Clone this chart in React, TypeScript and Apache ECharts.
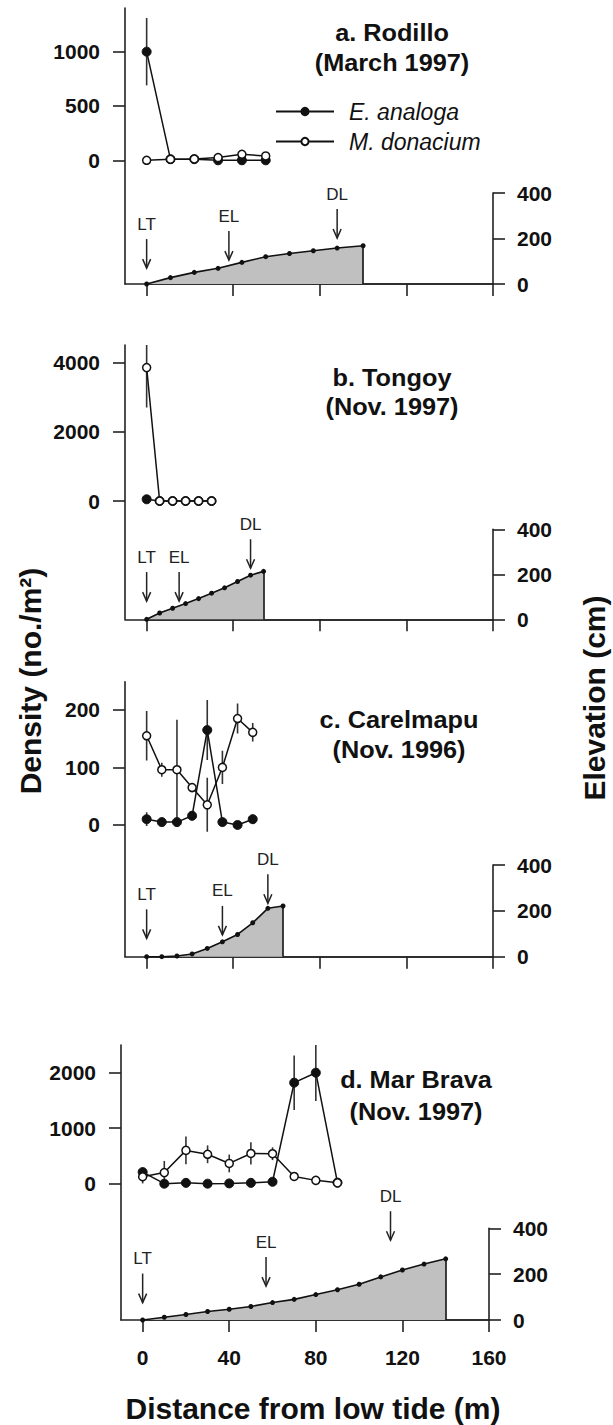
import React, { useEffect, useRef } from "react";
import * as echarts from "echarts";

const FONT = '"Liberation Sans", Arial, Helvetica, sans-serif';
const INK = "#111";
const AXIS = "#222";

// ---------- shared ticks ----------
const xTicks = [0, 40, 80, 120, 160];
const elevTicks = [0, 200, 400];
const arrowLabels = ["LT", "EL", "DL"];
const speciesNames = ["E. analoga", "M. donacium"];

// ---------- a. Rodillo (March 1997) ----------
const aDensityX = [0, 11, 22, 33, 44, 55];
const aAnaloga = [1000, 10, 10, 0, 0, 0];
const aAnalogaErr = [310, 0, 0, 0, 0, 0];
const aDonacium = [0, 9, 12, 25, 55, 40];
const aDonaciumErr = [0, 0, 0, 0, 0, 0];
const aElevX = [0, 11, 22, 33, 44, 55, 66, 77, 88, 100];
const aElev = [0, 28, 51, 69, 95, 120, 134, 146, 158, 168];
const aArrowX = [0, 38, 88];
const aArrowTip = [70, 105, 202];
const aDensityTicks = [0, 500, 1000];

// ---------- b. Tongoy (Nov. 1997) ----------
const bDensityX = [0, 6, 12, 18, 24, 30];
const bAnaloga = [50, 0, 0, 0, 0, 0];
const bAnalogaErr = [0, 0, 0, 0, 0, 0];
const bDonacium = [3850, 0, 0, 0, 0, 0];
const bDonaciumErr = [1150, 0, 0, 0, 0, 0];
const bElevX = [0, 6, 12, 18, 24, 30, 36, 42, 48, 54];
const bElev = [0, 28, 49, 70, 92, 116, 140, 168, 196, 213];
const bArrowX = [0, 15, 48];
const bArrowTip = [81, 81, 227];
const bDensityTicks = [0, 2000, 4000];

// ---------- c. Carelmapu (Nov. 1996) ----------
const cDensityX = [0, 7, 14, 21, 28, 35, 42, 49];
const cAnaloga = [10, 5, 5, 16, 165, 5, 0, 10];
const cAnalogaErr = [12, 6, 0, 8, 52, 5, 3, 8];
const cDonacium = [155, 96, 96, 65, 35, 100, 185, 161];
const cDonaciumErr = [43, 12, 87, 8, 47, 29, 26, 16];
const cElevX = [0, 7, 14, 21, 28, 35, 42, 49, 56, 63];
const cElev = [0, 0, 3, 12, 36, 65, 97, 148, 211, 221];
const cArrowX = [0, 35, 56];
const cArrowTip = [80, 95, 233];
const cDensityTicks = [0, 100, 200];

// ---------- d. Mar Brava (Nov. 1997) ----------
const dDensityX = [0, 10, 20, 30, 40, 50, 60, 70, 80, 90];
const dAnaloga = [210, 0, 15, 0, 5, 15, 35, 1820, 2000, 20];
const dAnalogaErr = [60, 0, 0, 0, 0, 0, 0, 490, 510, 0];
const dDonacium = [125, 200, 600, 530, 365, 545, 540, 130, 60, 15];
const dDonaciumErr = [120, 210, 250, 160, 160, 200, 115, 0, 0, 0];
const dElevX = [0, 10, 20, 30, 40, 50, 60, 70, 80, 90, 100, 110, 120, 130, 140];
const dElev = [0, 12, 24, 37, 47, 59, 76, 90, 111, 132, 156, 188, 218, 244, 267];
const dArrowX = [0, 57, 114.5];
const dArrowTip = [76, 148, 348];
const dDensityTicks = [0, 1000, 2000];

// ---------- layout (pixels / axis ranges) ----------
const panels = [
  {
    title: ["a. Rodillo", "(March 1997)"], titleX: 392, titleY: [33, 63],
    left: 125, top: 8, base: 284, elevTop: 193, dMin: -1139, dMax: 1402,
    dx: aDensityX, an: aAnaloga, anE: aAnalogaErr, dn: aDonacium, dnE: aDonaciumErr,
    ex: aElevX, ev: aElev, ax: aArrowX, at: aArrowTip, dTicks: aDensityTicks, xLabels: false,
  },
  {
    title: ["b. Tongoy", "(Nov. 1997)"], titleX: 392, titleY: [378, 407],
    left: 125, top: 345, base: 619.3, elevTop: 529.3, dMin: -3414, dMax: 4502,
    dx: bDensityX, an: bAnaloga, anE: bAnalogaErr, dn: bDonacium, dnE: bDonaciumErr,
    ex: bElevX, ev: bElev, ax: bArrowX, at: bArrowTip, dTicks: bDensityTicks, xLabels: false,
  },
  {
    title: ["c. Carelmapu", "(Nov. 1996)"], titleX: 399, titleY: [720, 750],
    left: 125, top: 681.7, base: 956.7, elevTop: 865, dMin: -229, dMax: 249,
    dx: cDensityX, an: cAnaloga, anE: cAnalogaErr, dn: cDonacium, dnE: cDonaciumErr,
    ex: cElevX, ev: cElev, ax: cArrowX, at: cArrowTip, dTicks: cDensityTicks, xLabels: false,
  },
  {
    title: ["d. Mar Brava", "(Nov. 1997)"], titleX: 416, titleY: [1080, 1112],
    left: 121, top: 1045, base: 1320, elevTop: 1228.3, dMin: -2456, dMax: 2499,
    dx: dDensityX, an: dAnaloga, anE: dAnalogaErr, dn: dDonacium, dnE: dDonaciumErr,
    ex: dElevX, ev: dElev, ax: dArrowX, at: dArrowTip, dTicks: dDensityTicks, xLabels: true,
  },
];

const X_MIN = -10;
const X_MAX = 160;
const GRID_W = 368;
const PX_PER_M = GRID_W / (X_MAX - X_MIN);

const plain = (v: number) => String(v);

function errRender(params: any, api: any) {
  const x = api.value(0);
  const y = api.value(1);
  const e = api.value(2);
  if (!e) return null;
  const p1 = api.coord([x, y + e]);
  const p2 = api.coord([x, y - e]);
  return {
    type: "line",
    shape: { x1: p1[0], y1: p1[1], x2: p2[0], y2: p2[1] },
    style: { stroke: "#333", lineWidth: 1.6 },
  };
}

function arrowRender(params: any, api: any) {
  const p = api.coord([api.value(0), api.value(1)]);
  const px = p[0];
  const py = p[1];
  const top = py - 29;
  return {
    type: "group",
    children: [
      { type: "line", shape: { x1: px, y1: top, x2: px, y2: py }, style: { stroke: "#222", lineWidth: 1.5 } },
      {
        type: "polyline",
        shape: { points: [[px - 4, py - 9], [px, py], [px + 4, py - 9]] },
        style: { stroke: "#222", lineWidth: 1.5, fill: null },
      },
      {
        type: "text",
        x: px,
        y: top - 15,
        style: {
          text: arrowLabels[params.dataIndex],
          fontSize: 17,
          fontFamily: FONT,
          fill: "#222",
          align: "center",
          verticalAlign: "middle",
        },
      },
    ],
  };
}

function buildOption() {
  const grid: any[] = [];
  const xAxis: any[] = [];
  const yAxis: any[] = [];
  const series: any[] = [];
  const graphic: any[] = [];

  const lineAxis = { show: true, onZero: false, lineStyle: { color: AXIS, width: 1.6 } };
  const tickStyle = { show: true, length: 12, lineStyle: { color: AXIS, width: 1.6 } };
  const labelStyle = { fontFamily: FONT, fontWeight: "bold", fontSize: 21, color: INK, formatter: plain };

  panels.forEach((p, i) => {
    const dg = i * 2;
    const eg = i * 2 + 1;
    const zeroX = p.left + (0 - X_MIN) * PX_PER_M;
    grid.push({ left: p.left, top: p.top, width: GRID_W, height: p.base - p.top });
    grid.push({ left: zeroX, top: p.elevTop, width: GRID_W - (zeroX - p.left), height: p.base - p.elevTop });

    // density grid axes
    xAxis.push({
      gridIndex: dg, type: "value", min: X_MIN, max: X_MAX,
      axisLine: lineAxis, axisTick: { show: false }, axisLabel: { show: false }, splitLine: { show: false },
    });
    yAxis.push({
      gridIndex: dg, type: "value", position: "left", min: p.dMin, max: p.dMax,
      axisLine: lineAxis,
      axisTick: { ...tickStyle, customValues: p.dTicks },
      axisLabel: { ...labelStyle, margin: 25, customValues: p.dTicks },
      splitLine: { show: false },
    });
    // elevation grid axes
    xAxis.push({
      gridIndex: eg, type: "value", min: 0, max: 160, interval: 40,
      axisLine: lineAxis, axisTick: { ...tickStyle, customValues: xTicks },
      axisLabel: { ...labelStyle, show: p.xLabels, margin: 27, customValues: xTicks },
      splitLine: { show: false },
    });
    yAxis.push({
      gridIndex: eg, type: "value", position: "right", min: 0, max: 400, interval: 200,
      axisLine: lineAxis, axisTick: { ...tickStyle, customValues: elevTicks },
      axisLabel: { ...labelStyle, margin: 24, customValues: elevTicks },
      splitLine: { show: false },
    });

    // error bars
    series.push({
      type: "custom", name: "err-a" + i, xAxisIndex: dg, yAxisIndex: dg, clip: true, z: 2,
      renderItem: errRender, data: p.dx.map((x, k) => [x, p.an[k], p.anE[k]]),
    });
    series.push({
      type: "custom", name: "err-d" + i, xAxisIndex: dg, yAxisIndex: dg, clip: true, z: 2,
      renderItem: errRender, data: p.dx.map((x, k) => [x, p.dn[k], p.dnE[k]]),
    });
    // density lines
    series.push({
      type: "line", name: speciesNames[0], xAxisIndex: dg, yAxisIndex: dg, z: 3,
      symbol: "circle", symbolSize: 9, showSymbol: true,
      lineStyle: { color: INK, width: 1.5 },
      itemStyle: { color: INK, borderColor: INK, borderWidth: 1 },
      data: p.dx.map((x, k) => [x, p.an[k]]),
    });
    series.push({
      type: "line", name: speciesNames[1], xAxisIndex: dg, yAxisIndex: dg, z: 4,
      symbol: "circle", symbolSize: 8, showSymbol: true,
      lineStyle: { color: INK, width: 1.5 },
      itemStyle: { color: "#fff", borderColor: INK, borderWidth: 1.5 },
      data: p.dx.map((x, k) => [x, p.dn[k]]),
    });
    // elevation profile
    const lastX = p.ex[p.ex.length - 1];
    const lastY = p.ev[p.ev.length - 1];
    series.push({
      type: "line", name: "elev" + i, xAxisIndex: eg, yAxisIndex: eg, z: 3,
      symbol: "circle", symbolSize: 5,
      lineStyle: { color: INK, width: 1.6 },
      itemStyle: { color: INK },
      areaStyle: { color: "#c0c0c0", opacity: 1 },
      data: p.ex.map((x, k) => [x, p.ev[k]]),
      markLine: {
        silent: true, symbol: ["none", "none"], label: { show: false },
        lineStyle: { color: INK, width: 1.6, type: "solid" },
        data: [[{ coord: [lastX, lastY] }, { coord: [lastX, 0] }]],
      },
    });
    // LT / EL / DL arrows
    series.push({
      type: "custom", name: "arrows" + i, xAxisIndex: eg, yAxisIndex: eg, z: 5, clip: false,
      renderItem: arrowRender, data: p.ax.map((x, k) => [x, p.at[k]]),
    });

    // panel titles
    p.title.forEach((t, k) => {
      graphic.push({
        type: "text", x: p.titleX, y: p.titleY[k], scaleX: 1.1, z: 10,
        style: {
          text: t, fontSize: 23, fontWeight: "bold", fontFamily: FONT, fill: INK,
          align: "center", verticalAlign: "middle", textAlign: "center", textVerticalAlign: "middle",
        },
      });
    });
  });

  // axis titles
  const titleStyle = {
    fontSize: 30, fontWeight: "bold", fontFamily: FONT, fill: INK,
    align: "center", verticalAlign: "middle", textAlign: "center", textVerticalAlign: "middle",
  };
  graphic.push({ type: "text", x: 30, y: 681, rotation: Math.PI / 2, style: { ...titleStyle, text: "Density (no./m²)" } });
  graphic.push({ type: "text", x: 594, y: 698, rotation: Math.PI / 2, style: { ...titleStyle, text: "Elevation (cm)" } });
  graphic.push({ type: "text", x: 313, y: 1408, style: { ...titleStyle, text: "Distance from low tide (m)" } });

  return {
    animation: false,
    backgroundColor: "#fff",
    grid,
    xAxis,
    yAxis,
    series,
    graphic,
    legend: {
      show: true,
      orient: "vertical",
      left: 270,
      top: 95,
      itemWidth: 58,
      itemHeight: 9,
      itemGap: 7,
      selectedMode: false,
      data: speciesNames,
      textStyle: { fontFamily: FONT, fontStyle: "italic", fontSize: 23, color: INK, padding: [0, 0, 0, 10] },
    },
  };
}

export default function App() {
  const ref = useRef<HTMLDivElement>(null);
  useEffect(() => {
    if (!ref.current) return;
    const chart = echarts.init(ref.current, null, { renderer: "svg" });
    chart.setOption(buildOption() as any);
    return () => chart.dispose();
  }, []);
  return (
    <div
      ref={ref}
      style={{ position: "absolute", left: 0, top: 0, width: 613, height: 1425, background: "#fff" }}
    />
  );
}
